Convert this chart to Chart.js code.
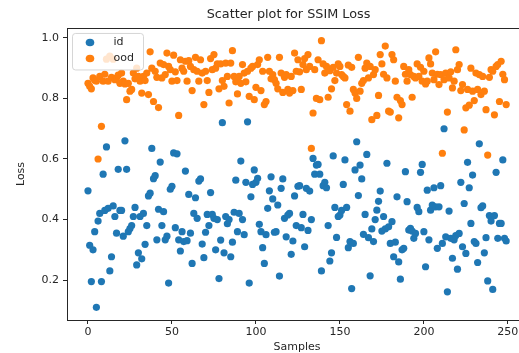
<!DOCTYPE html>
<html>
<head>
<meta charset="utf-8">
<script src="https://cdn.jsdelivr.net/npm/chart.js@4"></script>
<style>
  html, body { margin: 0; padding: 0; background: #fff; overflow: hidden; }
  #wrap { width: 577px; height: 353px; }
</style>
</head>
<body>
<div id="wrap"><canvas id="lossChart" width="577" height="353"></canvas></div>
<script>
const seriesNames = ['id', 'ood'];

const idLoss = [
  0.495, 0.315, 0.195, 0.30, 0.36, 0.11, 0.395, 0.42, 0.195, 0.55,
  0.43, 0.64, 0.437, 0.23, 0.277, 0.445, 0.41, 0.355, 0.566, 0.43,
  0.43, 0.345, 0.66, 0.566, 0.36, 0.37, 0.38, 0.41, 0.44, 0.25,
  0.29, 0.41, 0.27, 0.42, 0.318, 0.38, 0.478, 0.487, 0.635, 0.535,
  0.545, 0.333, 0.434, 0.59, 0.38, 0.426, 0.333, 0.345, 0.19, 0.50,
  0.51, 0.62, 0.373, 0.617, 0.333, 0.296, 0.36, 0.327, 0.56, 0.33,
  0.483,
  0.355, 0.255, 0.42, 0.472, 0.404, 0.527, 0.534, 0.319, 0.274, 0.358,
  0.417, 0.38, 0.489, 0.417, 0.404, 0.30, 0.40, 0.205, 0.332, 0.72,
  0.29, 0.41, 0.386, 0.40, 0.277, 0.325, 0.424, 0.53, 0.36, 0.42,
  0.593, 0.40, 0.35, 0.523, 0.723, 0.19, 0.475, 0.516, 0.564, 0.523,
  0.536, 0.384, 0.36, 0.307, 0.255, 0.35, 0.437, 0.495, 0.541, 0.468,
  0.358, 0.36, 0.448, 0.213, 0.503, 0.534, 0.404, 0.343, 0.415, 0.42,
  0.285, 0.329, 0.478, 0.38,
  0.51, 0.512, 0.373, 0.417, 0.31, 0.503, 0.364, 0.494, 0.40, 0.602,
  0.55, 0.58, 0.582, 0.55, 0.23, 0.512, 0.523, 0.505, 0.38, 0.263,
  0.29, 0.61, 0.44, 0.341, 0.41, 0.415, 0.43, 0.516, 0.597, 0.44,
  0.307, 0.327, 0.172, 0.321, 0.564, 0.657, 0.479, 0.58, 0.534, 0.351,
  0.417, 0.615, 0.34, 0.214, 0.369, 0.327, 0.40, 0.431, 0.46, 0.494,
  0.362, 0.41, 0.369, 0.586, 0.376, 0.321, 0.393, 0.277, 0.325, 0.475,
  0.26, 0.203, 0.30, 0.305, 0.558, 0.459,
  0.365, 0.371, 0.362, 0.338, 0.354, 0.44, 0.426, 0.556, 0.582, 0.36,
  0.244, 0.497, 0.333, 0.431, 0.448, 0.505, 0.442, 0.305, 0.442, 0.512,
  0.321, 0.70, 0.343, 0.161, 0.428, 0.338, 0.272, 0.333, 0.347, 0.236,
  0.354, 0.523, 0.31, 0.453, 0.288, 0.589, 0.505, 0.387, 0.547, 0.327,
  0.321, 0.258, 0.65, 0.439, 0.445, 0.29, 0.34, 0.197, 0.413, 0.395,
  0.169, 0.413, 0.556, 0.338, 0.387, 0.387, 0.597, 0.338, 0.329
];

const oodLoss = [
  0.85, 0.84, 0.832, 0.868, 0.86, 0.857, 0.60, 0.873, 0.708, 0.857,
  0.88, 0.93, 0.857, 0.94, 0.87, 0.93, 0.862, 0.868, 0.877, 0.85,
  0.884, 0.857, 0.848, 0.796, 0.85, 0.824, 0.83, 0.884, 0.865, 0.90,
  0.873, 0.857, 0.818, 0.873, 0.859, 0.884, 0.813, 0.954, 0.90, 0.79,
  0.89, 0.87, 0.77, 0.917, 0.868, 0.912, 0.879, 0.95, 0.906, 0.895,
  0.857, 0.943, 0.888, 0.859, 0.744, 0.928, 0.90, 0.89, 0.923, 0.857,
  0.925, 0.906, 0.826, 0.895, 0.936, 0.89, 0.857, 0.928, 0.884, 0.78,
  0.89, 0.859, 0.82, 0.932, 0.895, 0.945, 0.90, 0.914, 0.832, 0.914,
  0.859, 0.84, 0.917, 0.873, 0.785, 0.917, 0.958, 0.873, 0.855, 0.815,
  0.873, 0.85, 0.912, 0.884, 0.855, 0.89, 0.807, 0.90, 0.906, 0.796,
  0.837, 0.912, 0.928, 0.826, 0.89, 0.78, 0.79, 0.936, 0.89, 0.865,
  0.879, 0.862, 0.85, 0.832, 0.936, 0.884, 0.82, 0.87, 0.879, 0.83,
  0.818, 0.873, 0.826, 0.95, 0.89,
  0.928, 0.888, 0.83, 0.912, 0.932, 0.895, 0.945, 0.906, 0.635, 0.752,
  0.895, 0.80, 0.928, 0.796, 0.991, 0.914, 0.884, 0.906, 0.804, 0.892,
  0.832, 0.903, 0.859, 0.884, 0.914, 0.906, 0.879, 0.873, 0.868, 0.78,
  0.91, 0.758, 0.903, 0.83, 0.818, 0.80, 0.936, 0.824, 0.85, 0.859,
  0.90, 0.917, 0.868, 0.906, 0.73, 0.879, 0.895, 0.744, 0.81, 0.945,
  0.914, 0.88, 0.973, 0.868, 0.758, 0.755, 0.945, 0.928, 0.857, 0.804,
  0.736, 0.793, 0.78, 0.906, 0.88, 0.857, 0.895,
  0.879, 0.804, 0.873, 0.868, 0.914, 0.873, 0.903, 0.857, 0.89, 0.848,
  0.857, 0.934, 0.914, 0.884, 0.862, 0.954, 0.88, 0.846, 0.879, 0.619,
  0.862, 0.884, 0.755, 0.868, 0.888, 0.835, 0.857, 0.961, 0.895, 0.912,
  0.826, 0.846, 0.696, 0.769, 0.83, 0.778, 0.90, 0.824, 0.793, 0.884,
  0.83, 0.879, 0.813, 0.873, 0.824, 0.763, 0.613, 0.87, 0.895, 0.89,
  0.746, 0.906, 0.912, 0.79, 0.923, 0.88, 0.862, 0.78
];

const xTicks = [0, 50, 100, 150, 200, 250];
const yTicks = [0.2, 0.4, 0.6, 0.8, 1.0];

const colors = ['#1f77b4', '#ff7f0e'];
const FONT = "'DejaVu Sans', sans-serif";
const INK = '#262626';

// matplotlib style frame around the axes
const frame = {
  id: 'frame',
  beforeDatasetsDraw(chart) {
    const { ctx, chartArea: a } = chart;
    ctx.save();
    ctx.strokeStyle = INK;
    ctx.lineWidth = 1;
    ctx.strokeRect(Math.round(a.left) + 0.5, Math.round(a.top) + 0.5,
      Math.round(a.width), Math.round(a.height));
    ctx.restore();
  }
};

// legend box inside the axes, upper left
const innerLegend = {
  id: 'innerLegend',
  afterDatasetsDraw(chart) {
    const { ctx, chartArea: a } = chart;
    const x = a.left + 5.5, y = a.top + 5.5, w = 71, h = 36.5;
    ctx.save();
    ctx.fillStyle = 'rgba(255,255,255,0.8)';
    ctx.strokeStyle = 'rgba(204,204,204,0.8)';
    ctx.lineWidth = 1;
    ctx.beginPath();
    ctx.roundRect(x, y, w, h, 3);
    ctx.fill();
    ctx.stroke();
    ctx.font = '11px ' + FONT;
    ctx.textBaseline = 'middle';
    chart.data.datasets.forEach((ds, i) => {
      const cy = y + 9 + i * 16;
      ctx.fillStyle = ds.backgroundColor;
      ctx.beginPath();
      ctx.ellipse(x + 17.5, cy, 4.3, 3.8, 0, 0, Math.PI * 2);
      ctx.fill();
      ctx.fillStyle = INK;
      ctx.fillText(ds.label, x + 41, cy);
    });
    ctx.restore();
  }
};

const ctx = document.getElementById('lossChart').getContext('2d');

new Chart(ctx, {
  type: 'scatter',
  data: {
    datasets: [idLoss, oodLoss].map((vals, i) => ({
      label: seriesNames[i],
      data: vals.map((v, k) => ({ x: k, y: v })),
      backgroundColor: colors[i],
      borderWidth: 0,
      pointRadius: 3.6,
      order: 1 - i
    }))
  },
  options: {
    responsive: false,
    animation: false,
    layout: { padding: 0 },
    plugins: {
      legend: { display: false },
      tooltip: { enabled: false },
      title: {
        display: true,
        text: 'Scatter plot for SSIM Loss',
        color: INK,
        font: { family: FONT, size: 12.8, weight: 'normal', lineHeight: 1.2 },
        padding: { top: 7, bottom: 5.6 }
      }
    },
    scales: {
      x: {
        type: 'linear',
        min: -12.5,
        max: 261.4,
        afterBuildTicks: s => { s.ticks = xTicks.map(v => ({ value: v })); },
        afterFit: s => { s.height = 33; },
        grid: { drawOnChartArea: false, drawTicks: true, tickLength: 4, color: INK },
        border: { display: false },
        ticks: {
          color: INK,
          padding: 2,
          maxRotation: 0,
          font: { family: FONT, size: 11 },
          callback: v => String(v)
        },
        title: {
          display: true,
          text: 'Samples',
          color: INK,
          font: { family: FONT, size: 11, lineHeight: 1 },
          padding: { top: 0, bottom: 0 }
        }
      },
      y: {
        min: 0.068,
        max: 1.033,
        afterBuildTicks: s => { s.ticks = yTicks.map(v => ({ value: v })); },
        afterFit: s => { s.width = 67; },
        grid: { drawOnChartArea: false, drawTicks: true, tickLength: 4, color: INK },
        border: { display: false },
        ticks: {
          color: INK,
          padding: 4,
          font: { family: FONT, size: 11 },
          callback: v => v.toFixed(1)
        },
        title: {
          display: true,
          text: 'Loss',
          color: INK,
          font: { family: FONT, size: 11, lineHeight: 1.2 },
          padding: { top: 15, bottom: 0 }
        }
      },
      // empty right-hand strip: the axes run past the window edge as in the original
      yRight: {
        position: 'right',
        min: 0,
        max: 1,
        afterFit: s => { s.width = 50; },
        grid: { display: false },
        border: { display: false },
        ticks: { display: false }
      }
    }
  },
  plugins: [frame, innerLegend]
});
</script>
</body>
</html>
